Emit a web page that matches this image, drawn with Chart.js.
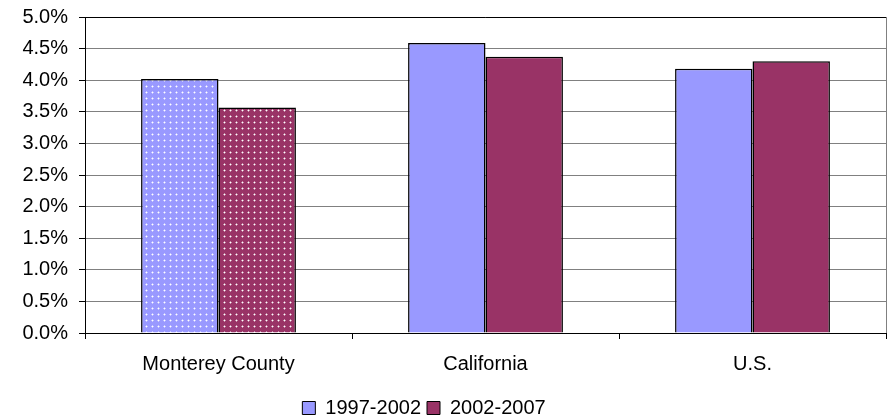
<!DOCTYPE html>
<html>
<head>
<meta charset="utf-8">
<script src="https://cdn.jsdelivr.net/npm/chart.js@4/dist/chart.umd.min.js"></script>
<style>
  html, body { margin: 0; padding: 0; background: #fff; }
  #wrap { width: 888px; height: 417px; }
</style>
</head>
<body>
<div id="wrap"><canvas id="chart" width="888" height="417"></canvas></div>
<script>
const categories = ['Monterey County', 'California', 'U.S.'];
const seriesNames = ['1997-2002', '2002-2007'];
const growth9702 = [4.02, 4.59, 4.18];
const growth0207 = [3.57, 4.37, 4.30];
const tickLabels = ['0.0%', '0.5%', '1.0%', '1.5%', '2.0%', '2.5%', '3.0%', '3.5%', '4.0%', '4.5%', '5.0%'];

const blue = '#9999FF';
const maroon = '#993366';

// dotted fill used for the Monterey County bars
function dots(base) {
    const c = document.createElement('canvas');
    c.width = 6; c.height = 6;
    const g = c.getContext('2d');
    g.fillStyle = base;
    g.fillRect(0, 0, 6, 6);
    g.fillStyle = 'rgba(255,255,255,0.45)';
    g.fillRect(2, 1, 1, 3);
    g.fillRect(1, 2, 3, 1);
    g.fillStyle = 'rgba(255,255,255,1)';
    g.fillRect(2, 2, 1, 1);
    return document.getElementById('chart').getContext('2d').createPattern(c, 'repeat');
}

const frame = {
    id: 'frame',
    afterLayout(chart) {
        // legend in the reference sits a little left of centre and lower
        chart.legend.left -= 19;
        chart.legend.right -= 19;
        chart.legend.top += 3;
        chart.legend.bottom += 3;
    },
    afterDraw(chart) {
        const a = chart.chartArea, ctx = chart.ctx;
        ctx.save();
        ctx.strokeStyle = '#808080';
        ctx.lineWidth = 1;
        ctx.beginPath();
        ctx.moveTo(a.right + 0.5, a.top);
        ctx.lineTo(a.right + 0.5, a.bottom);
        ctx.stroke();
        ctx.strokeStyle = '#000';
        ctx.beginPath();
        ctx.moveTo(a.left, a.top + 0.5);
        ctx.lineTo(a.right, a.top + 0.5);
        ctx.stroke();
        ctx.restore();
    }
};

const font = { family: '"Liberation Sans", Arial, sans-serif', size: 20 };

new Chart(document.getElementById('chart'), {
    type: 'bar',
    data: {
        labels: categories,
        datasets: [
            {
                label: seriesNames[0],
                data: growth9702,
                backgroundColor: [dots(blue), blue, blue],
                borderColor: '#000',
                borderWidth: 1.5,
                barPercentage: 1,
                categoryPercentage: 0.58
            },
            {
                label: seriesNames[1],
                data: growth0207,
                backgroundColor: [dots(maroon), maroon, maroon],
                borderColor: '#000',
                borderWidth: 1.5,
                barPercentage: 1,
                categoryPercentage: 0.58
            }
        ]
    },
    options: {
        responsive: false,
        animation: false,
        layout: { padding: { top: 16, right: 2, left: 0, bottom: -8 } },
        scales: {
            x: {
                grid: { drawOnChartArea: false, drawTicks: true, tickLength: 6, color: '#000', offset: true },
                border: { color: '#000', width: 1 },
                ticks: { color: '#000', font: font, padding: 13 }
            },
            y: {
                min: 0,
                max: 5,
                afterFit(axis) { axis.width = 85; },
                afterBuildTicks(axis) {
                    axis.ticks = tickLabels.map(t => ({ value: parseFloat(t) }));
                },
                grid: { color: '#808080', tickColor: '#000', tickLength: 6 },
                border: { color: '#000', width: 1 },
                ticks: {
                    color: '#000',
                    font: { ...font, lineHeight: 0.6 },
                    padding: 11,
                    callback: (v, i) => tickLabels[i]
                }
            }
        },
        plugins: {
            tooltip: { enabled: false },
            legend: {
                position: 'bottom',
                labels: {
                    color: '#000',
                    font: font,
                    boxWidth: 13,
                    boxHeight: 13,
                    padding: 6,
                    generateLabels(chart) {
                        return chart.data.datasets.map((d, i) => ({
                            text: d.label,
                            fillStyle: i === 0 ? blue : maroon,
                            strokeStyle: '#000',
                            lineWidth: 1,
                            datasetIndex: i
                        }));
                    }
                }
            }
        }
    },
    plugins: [frame]
});
</script>
</body>
</html>
